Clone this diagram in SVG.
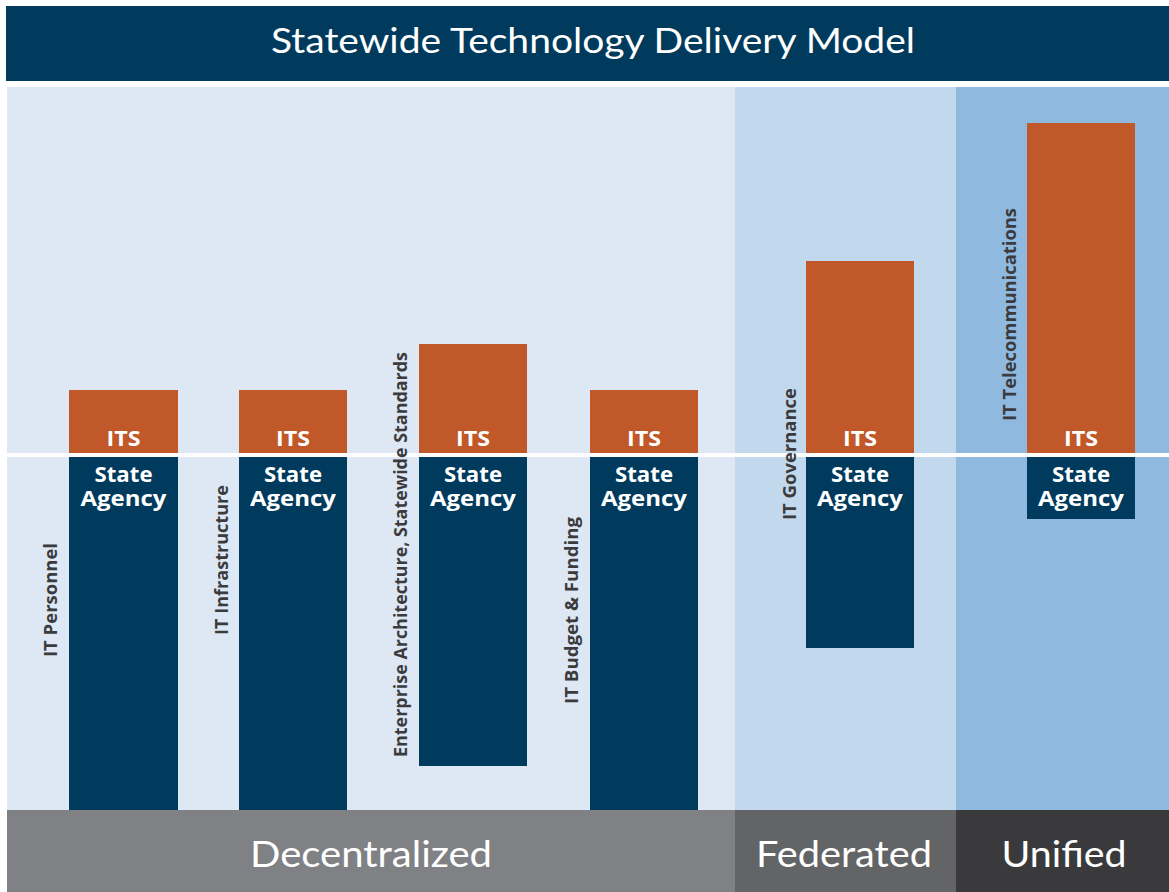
<svg xmlns="http://www.w3.org/2000/svg" width="1169" height="892" viewBox="0 0 1169 892">
  <style>
    .title { font-family: Lato, "Open Sans", sans-serif; font-size: 35px; fill: #ffffff; text-anchor: middle; }
    .band { font-family: Lato, "Open Sans", sans-serif; font-size: 37px; fill: #ffffff; text-anchor: middle; }
    .its { fill: #c1582a; }
    .agency { fill: #003a5c; }
    .lbl { font-family: "Open Sans", "Liberation Sans", sans-serif; font-weight: 700; fill: #ffffff; text-anchor: middle; font-size: 22px; }
    .side { font-family: "Open Sans", "Liberation Sans", sans-serif; font-weight: 700; fill: #3b3b3d; font-size: 17px; }
  </style>
  <defs>
    <!-- shared bar captions -->
    <text id="cap-its" class="lbl" y="446" textLength="34" lengthAdjust="spacingAndGlyphs">ITS</text>
    <text id="cap-state" class="lbl" y="482" textLength="58" lengthAdjust="spacingAndGlyphs">State</text>
    <text id="cap-agency" class="lbl" y="506" textLength="86" lengthAdjust="spacingAndGlyphs">Agency</text>
  </defs>

  <!-- page -->
  <rect x="0" y="0" width="1169" height="892" fill="#ffffff"/>

  <!-- header -->
  <g id="header">
    <rect x="6" y="6" width="1163" height="75" fill="#003b5d"/>
    <text class="title" x="593" y="53" textLength="644" lengthAdjust="spacingAndGlyphs">Statewide Technology Delivery Model</text>
  </g>

  <!-- model zones -->
  <g id="zones">
    <rect x="7" y="87" width="728" height="723" fill="#dde8f4"/>
    <rect x="735" y="87" width="221" height="723" fill="#c2d8ec"/>
    <rect x="956" y="87" width="213" height="723" fill="#8fb9df"/>
  </g>

  <!-- divider between ITS and State Agency (labels run over it) -->
  <rect id="divider" x="7" y="453" width="1162" height="4" fill="#ffffff"/>

  <!-- bars: ITS above the divider, State Agency below -->
  <g id="bar-it-personnel">
    <rect class="its" x="69" y="390" width="109" height="63"/>
    <rect class="agency" x="69" y="457" width="109" height="353"/>
    <use href="#cap-its" x="123.5"/>
    <use href="#cap-state" x="123.5"/>
    <use href="#cap-agency" x="123.5"/>
    <text class="side" transform="translate(57 657) rotate(-90)" textLength="114" lengthAdjust="spacingAndGlyphs">IT Personnel</text>
  </g>

  <g id="bar-it-infrastructure">
    <rect class="its" x="239" y="390" width="108" height="63"/>
    <rect class="agency" x="239" y="457" width="108" height="353"/>
    <use href="#cap-its" x="293"/>
    <use href="#cap-state" x="293"/>
    <use href="#cap-agency" x="293"/>
    <text class="side" transform="translate(228 635) rotate(-90)" textLength="150" lengthAdjust="spacingAndGlyphs">IT Infrastructure</text>
  </g>

  <g id="bar-enterprise-architecture">
    <rect class="its" x="419" y="344" width="108" height="109"/>
    <rect class="agency" x="419" y="457" width="108" height="309"/>
    <use href="#cap-its" x="473"/>
    <use href="#cap-state" x="473"/>
    <use href="#cap-agency" x="473"/>
    <text class="side" transform="translate(407 757) rotate(-90)" textLength="405" lengthAdjust="spacingAndGlyphs">Enterprise Architecture, Statewide Standards</text>
  </g>

  <g id="bar-it-budget">
    <rect class="its" x="590" y="390" width="108" height="63"/>
    <rect class="agency" x="590" y="457" width="108" height="353"/>
    <use href="#cap-its" x="644"/>
    <use href="#cap-state" x="644"/>
    <use href="#cap-agency" x="644"/>
    <text class="side" transform="translate(578 704) rotate(-90)" textLength="187" lengthAdjust="spacingAndGlyphs">IT Budget &amp; Funding</text>
  </g>

  <g id="bar-it-governance">
    <rect class="its" x="806" y="261" width="108" height="192"/>
    <rect class="agency" x="806" y="457" width="108" height="191"/>
    <use href="#cap-its" x="860"/>
    <use href="#cap-state" x="860"/>
    <use href="#cap-agency" x="860"/>
    <text class="side" transform="translate(796 520) rotate(-90)" textLength="132" lengthAdjust="spacingAndGlyphs">IT Governance</text>
  </g>

  <g id="bar-it-telecommunications">
    <rect class="its" x="1027" y="123" width="108" height="330"/>
    <rect class="agency" x="1027" y="457" width="108" height="62"/>
    <use href="#cap-its" x="1081"/>
    <use href="#cap-state" x="1081"/>
    <use href="#cap-agency" x="1081"/>
    <text class="side" transform="translate(1016 421) rotate(-90)" textLength="213" lengthAdjust="spacingAndGlyphs">IT Telecommunications</text>
  </g>

  <!-- delivery model bands -->
  <g id="band-decentralized">
    <rect x="7" y="810" width="728" height="82" fill="#808185"/>
    <text class="band" x="371" y="867" textLength="242" lengthAdjust="spacingAndGlyphs">Decentralized</text>
  </g>
  <g id="band-federated">
    <rect x="735" y="810" width="221" height="82" fill="#636466"/>
    <text class="band" x="844" y="867" textLength="176" lengthAdjust="spacingAndGlyphs">Federated</text>
  </g>
  <g id="band-unified">
    <rect x="956" y="810" width="213" height="82" fill="#3a3a3c"/>
    <text class="band" x="1064" y="867" textLength="125" lengthAdjust="spacingAndGlyphs">Unified</text>
  </g>
</svg>
